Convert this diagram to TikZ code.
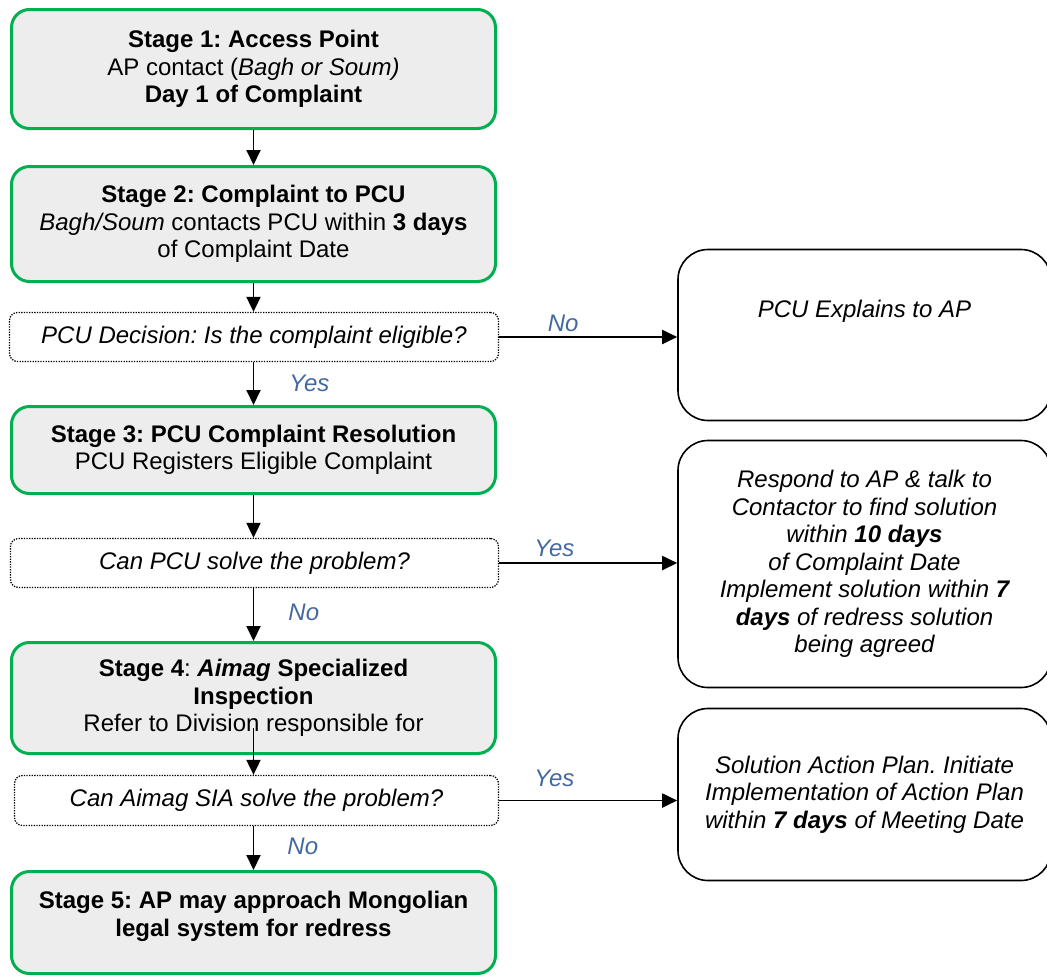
\documentclass[tikz,border=0pt]{standalone}
\usepackage{fontspec}
\setmainfont{Liberation Sans}
\usetikzlibrary{arrows.meta}
\definecolor{stagegreen}{RGB}{0,176,80}
\definecolor{stagefill}{RGB}{237,237,237}
\definecolor{lblblue}{RGB}{68,105,160}
\frenchspacing
\tikzset{
  stagebox/.style={draw=stagegreen, line width=3pt, fill=stagefill, rounded corners=18pt,
    minimum width=484pt, align=center, inner sep=0pt,
    font=\fontsize{24}{27.5}\selectfont},
  decbox/.style={draw=black, line width=1.3pt, dash pattern=on 1.3pt off 1.3pt, rounded corners=8pt,
    align=center, inner sep=0pt, font=\fontsize{24}{27.5}\selectfont\itshape},
  resbox/.style={draw=black, line width=1.6pt, rounded corners=30pt, minimum width=373pt,
    align=center, inner sep=0pt, font=\fontsize{24}{27.5}\selectfont\itshape},
  flow/.style={draw=black, line width=1.9pt, -{Triangle[length=15pt,width=14pt]}},
  lbl/.style={text=lblblue, font=\fontsize{24}{27.5}\selectfont\itshape, inner sep=0pt},
  plain/.style={align=center, inner sep=0pt, font=\fontsize{24}{27.5}\selectfont\itshape}
}
\begin{document}
\begin{tikzpicture}[x=1pt, y=-1pt]
\useasboundingbox (0,0) rectangle (1047,978);

% left column
\node[stagebox, minimum height=119pt] (s1) at (253.5,69)
  {\textbf{Stage 1: Access Point}\\ AP contact (\textit{Bagh or Soum)}\\ \textbf{Day 1 of Complaint}};
\node[stagebox, minimum height=115pt] (s2) at (253.5,224)
  {\textbf{Stage 2: Complaint to PCU}\\ \textit{Bagh/Soum} contacts PCU within \textbf{3 days}\\ of Complaint Date};
\node[decbox, minimum width=489pt, minimum height=49pt] (d1) at (254,337)
  {PCU Decision: Is the complaint eligible?};
\node[stagebox, minimum height=87pt] (s3) at (253.5,450)
  {\textbf{Stage 3: PCU Complaint Resolution}\\ PCU Registers Eligible Complaint};
\node[decbox, minimum width=488pt, minimum height=49pt] (d2) at (254.5,563)
  {Can PCU solve the problem?};
\node[stagebox, minimum height=111pt] (s4) at (253.5,698)
  {\textbf{Stage 4}: \textbf{\textit{Aimag} Specialized}\\ \textbf{Inspection}\\ Refer to Division responsible for};
\node[decbox, minimum width=484pt, minimum height=50pt] (d3) at (256.5,800.5)
  {Can Aimag SIA solve the problem?};
\node[stagebox, minimum height=102pt] (s5) at (253.5,922.5)
  {\textbf{Stage 5: AP may approach Mongolian}\\ \textbf{legal system for redress}\\[-10pt]\mbox{}};

% right column
\node[resbox, minimum height=171pt] (r1) at (864.5,335) {};
\node[plain, anchor=center] (r1t) at (r1.center |- 0,311) {PCU Explains to AP};
\node[resbox, minimum height=247pt] (r2) at (864.5,564)
  {Respond to AP \& talk to\\ Contactor to find solution\\ within \textbf{10 days}\\ of Complaint Date\\
   Implement solution within \textbf{7}\\ \textbf{days} of redress solution\\ being agreed};
\node[resbox, minimum height=172pt] (r3) at (864.5,794.5)
  {Solution Action Plan. Initiate\\ Implementation of Action Plan\\ within \textbf{7 days} of Meeting Date};

% connectors
\draw[flow] (s1.south) -- (s2.north);
\draw[flow] (s2.south) -- (s2.south |- d1.north);
\draw[flow] (d1.south -| s3.north) -- node[lbl, right=35pt, pos=0.5] {Yes} (s3.north);
\draw[flow] (s3.south) -- (s3.south |- d2.north);
\draw[flow] (d2.south -| s4.north) -- node[lbl, right=34pt, pos=0.45] {No} (s4.north);
\draw[flow] ([yshift=27pt]s4.south) -- (s4.south |- d3.north);
\draw[flow] (d3.south -| s5.north) -- node[lbl, right=33pt, pos=0.45] {No} (s5.north);

\draw[flow] (d1.east) -- node[lbl, above=4pt, pos=0.36] {No} (d1.east -| r1.west);
\draw[flow] (d2.east) -- node[lbl, above=5pt, pos=0.31] {Yes} (d2.east -| r2.west);
\draw[flow] (d3.east) -- node[lbl, above=13pt, pos=0.31] {Yes} (d3.east -| r3.west);
\end{tikzpicture}
\end{document}
